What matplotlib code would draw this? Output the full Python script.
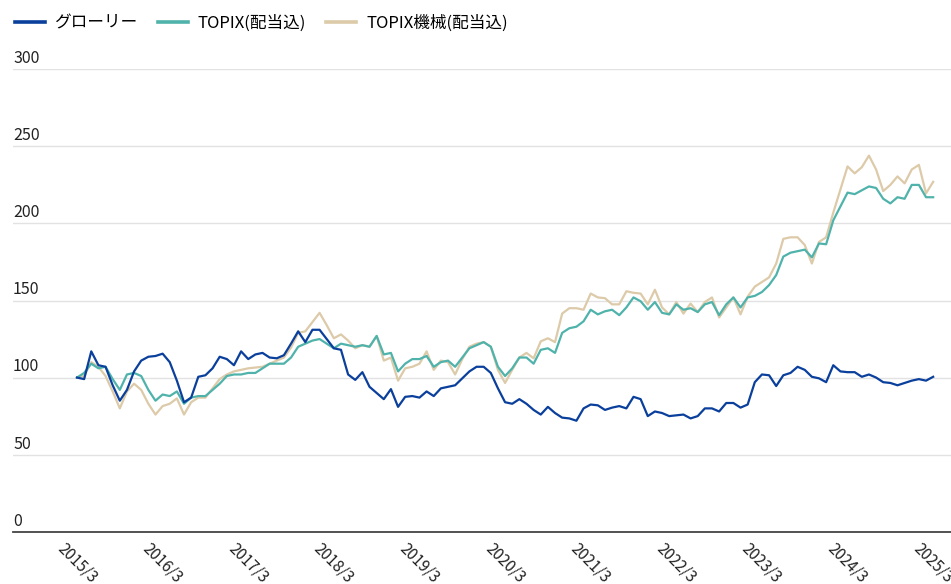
import numpy as np
import pandas as pd
import matplotlib
matplotlib.use('Agg')
import matplotlib.pyplot as plt
import matplotlib.transforms as mtransforms

plt.rcParams['font.family'] = ['Noto Sans CJK JP', 'DejaVu Sans']

# Monthly index values (2015/3 = 100)
months = pd.date_range('2015-03-01', periods=121, freq='MS')

glory = [
    100, 99, 117, 108, 107, 95, 85, 92, 104, 111, 113.5, 114, 115.5, 110, 98, 84, 87, 100.5, 101.5, 106,
    113.5, 112, 108, 117, 112, 115, 116, 113, 112.5, 114.5, 122, 130, 123, 131, 131, 125, 119, 118, 102, 98.5,
    103.5, 94, 90, 86, 92.5, 81, 87.5, 88, 87, 91, 88, 93, 94, 95, 99.5, 104, 107, 107, 103, 93,
    84, 83, 86, 83, 79, 76, 81, 77, 74, 73.5, 72, 80, 82.5, 82, 79, 80.5, 81.5, 80, 87.5, 86,
    75, 78, 77, 75, 75.5, 76, 73.5, 75, 80, 80, 78, 83.5, 83.5, 80.5, 82.5, 97, 102, 101.5, 94.5, 101.5,
    103, 107, 105, 100.5, 99.5, 97, 108, 104, 103.5, 103.5, 100.5, 102, 100, 97, 96.5, 95, 96.5, 98, 99, 98,
    100.5,
]

topix = [
    100, 103, 109, 106, 107, 99, 92, 102, 103, 101, 92, 85, 89, 88, 91, 83, 87, 88, 88, 92,
    96, 101, 102, 102, 103, 103, 106, 109, 109, 109, 113, 120, 122, 124, 125, 122, 119, 122, 121, 120,
    121, 120, 127, 115, 116, 104, 109, 112, 112, 114, 107, 110, 111, 107, 113, 119, 121, 123, 120, 107,
    101, 106, 113, 113, 109, 118, 119, 116, 129, 132, 133, 136.5, 144, 141, 143, 144, 140.5, 145.5, 152, 149.5,
    144, 149, 142, 141, 147.5, 144, 145, 142.5, 147.5, 149, 140.5, 147.5, 152, 145.5, 152, 153, 155.5, 160, 166.5, 178.5,
    181, 182, 183, 178, 187, 186.5, 202, 211, 220, 219, 221.5, 224, 223, 216, 213, 217, 216, 225, 225, 217,
    217,
]

topix_machinery = [
    100, 101, 110, 107, 101, 91, 80, 91, 96, 92, 83, 76, 81.5, 83, 86.5, 76, 84, 87, 87, 93,
    99, 102, 104, 105, 106, 106.5, 107, 109, 111, 113, 119.5, 129, 130, 136, 142, 134, 125.5, 128, 124, 119,
    121, 120, 127, 111, 113, 98, 106, 107, 109, 117, 105, 111, 110, 102, 112, 120, 122, 123, 120, 105,
    96.5, 105, 113, 116, 112.5, 123.5, 125.5, 123, 141.5, 145, 145, 144, 154.5, 152, 151.5, 147.5, 147.5, 156, 155, 154.5,
    147.5, 157, 145.5, 141, 149, 141.5, 148, 142.5, 149, 152, 139, 145.5, 152, 141, 152.5, 159, 162, 165, 174, 190,
    191, 191, 186, 174, 188, 191, 207, 222, 237, 232.5, 236.5, 244, 235, 221, 225, 230.5, 226, 235, 238, 219.5,
    227,
]

series_names = ['グローリー', 'TOPIX(配当込)', 'TOPIX機械(配当込)']
colors = ['#0a3f9c', '#4fb3ab', '#dccaa9']
y_ticks = [0, 50, 100, 150, 200, 250, 300]

x = np.arange(len(months))
tick_pos = x[::12]
tick_labels = [f'{d.year}/{d.month}' for d in months[::12]]

fig = plt.figure(figsize=(9.51, 5.84), dpi=100)
ax = fig.add_axes([13 / 951, 52.3 / 584, 938 / 951, 462.4 / 584])

# draw beige first so the blue line sits on top
ax.plot(x, topix_machinery, color=colors[2], linewidth=1.6, label=series_names[2], zorder=3)
ax.plot(x, topix, color=colors[1], linewidth=1.6, label=series_names[1], zorder=4)
ax.plot(x, glory, color=colors[0], linewidth=1.6, label=series_names[0], zorder=5)

ax.set_xlim(-8.97, 122.5)
ax.set_ylim(0, 300)

# gridlines and value labels sitting above them
ax.set_yticks(y_ticks)
ax.set_yticklabels([])
ax.tick_params(axis='y', length=0)
ax.grid(axis='y', color='#e2e2e2', linewidth=1.0, zorder=0)
trans = mtransforms.offset_copy(ax.get_yaxis_transform(), fig=fig, x=0, y=1.5, units='points')
for v in y_ticks:
    ax.text(0, v, str(v), transform=trans, ha='left', va='bottom', fontsize=11.5, color='#222222')

ax.set_xticks(tick_pos)
ax.set_xticklabels(tick_labels, rotation=-45, ha='center', va='top', fontsize=11, color='#222222')
ax.tick_params(axis='x', length=0, pad=6)

for side in ['top', 'right', 'left']:
    ax.spines[side].set_visible(False)
ax.spines['bottom'].set_color('#444444')
ax.spines['bottom'].set_linewidth(1.3)
ax.spines['bottom'].set_zorder(6)

# legend across the top, in the same order as the source
handles, labels = ax.get_legend_handles_labels()
order = [2, 1, 0]
leg = fig.legend([handles[i] for i in order], [labels[i] for i in order],
                 loc='upper left', bbox_to_anchor=(0.003, 0.995), ncol=3, frameon=False,
                 fontsize=12, handlelength=1.8, handletextpad=0.6, columnspacing=1.2,
                 borderaxespad=0.3)
for line in leg.get_lines():
    line.set_linewidth(2.6)

fig.savefig('out.png', dpi=100)
